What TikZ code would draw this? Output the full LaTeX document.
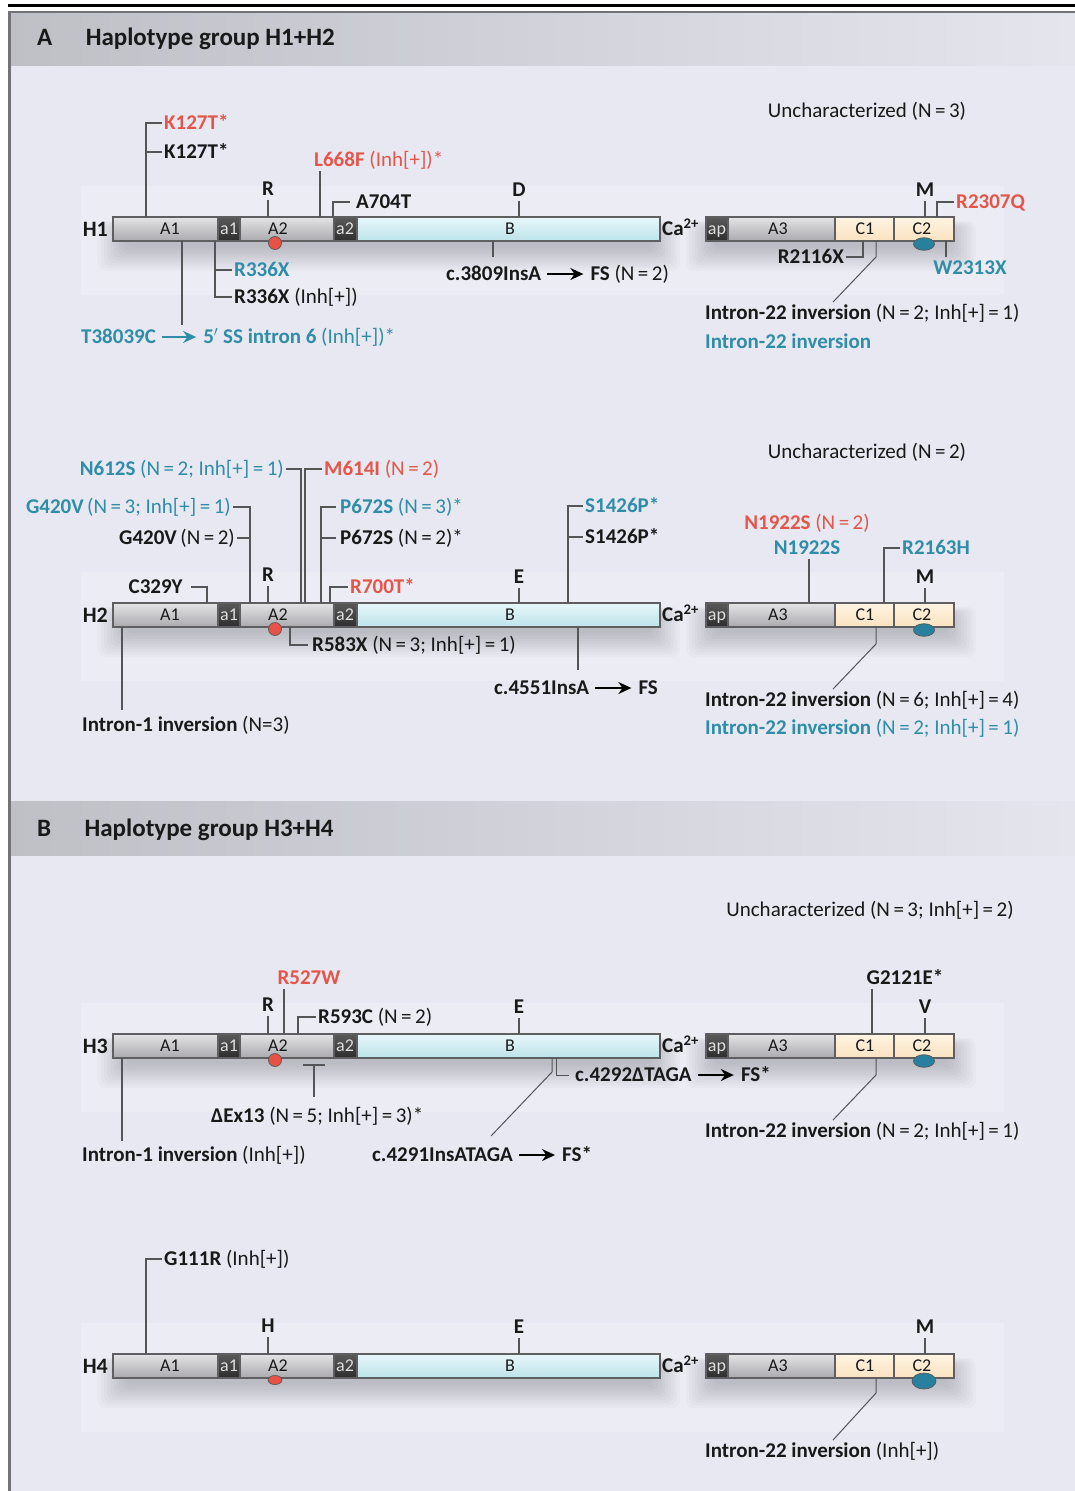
\documentclass[tikz,border=0pt]{standalone}
\usepackage{fontspec}
\setmainfont{Carlito}
\usetikzlibrary{positioning,arrows.meta}
\definecolor{panelbg}{RGB}{231,232,241}
\definecolor{rowbg}{RGB}{235,236,244}
\definecolor{hdrleft}{RGB}{190,192,198}
\definecolor{hdrright}{RGB}{229,229,238}
\definecolor{frame}{RGB}{115,115,118}
\definecolor{segline}{RGB}{95,95,98}
\definecolor{gtop}{RGB}{228,228,230}
\definecolor{gbot}{RGB}{170,170,174}
\definecolor{dtop}{RGB}{90,90,90}
\definecolor{dbot}{RGB}{45,45,45}
\definecolor{segltxt}{RGB}{222,222,222}
\definecolor{btop}{RGB}{232,247,250}
\definecolor{bbot}{RGB}{188,227,234}
\definecolor{ctop}{RGB}{255,244,226}
\definecolor{cbot}{RGB}{250,226,192}
\definecolor{mutred}{RGB}{229,86,74}
\definecolor{mutblue}{RGB}{47,141,168}
\definecolor{ink}{RGB}{25,25,25}
\definecolor{lead}{RGB}{85,85,88}
\definecolor{dotred}{RGB}{232,82,70}
\definecolor{dotblue}{RGB}{38,128,158}
\newcommand{\eqs}{\,=\,}
\newcommand{\haplorow}[4]{% #1 row, #2 bar centre, #3 red dot, #4 blue dot
  \begin{scope}[shift={(0,#2)}]
    \fill[rowbg] (81,-43) rectangle (1004,66);
    \foreach \k in {1,...,10}{
      \fill[black,opacity=0.02,rounded corners=8pt] (128-3*\k,2-\k) rectangle (650+3*\k,16+2.6*\k);
      \fill[black,opacity=0.02,rounded corners=8pt] (716-3*\k,2-\k) rectangle (946+3*\k,16+2.6*\k);
    }
    \node[rowlbl,anchor=east] (#1) at (110,0) {#1};
    \foreach \xa/\xb/\kind/\txt/\tx in {113/218/gseg/A1/170, 218/240/dseg/a1/229, 240/334/gseg/A2/278,
        334/357/dseg/a2/345, 357/660/bseg/B/510, 706/728/dseg/ap/717, 728/835/gseg/A3/778,
        835/894/cseg/C1/865, 894/954/cseg/C2/922}{
      \node[\kind,minimum width={(\xb-\xa)*1pt},anchor=west] (#1\txt) at (\xa,0) {};
      \node[seglbl,\kind\space text] (#1-\txt) at (\tx,0) {\txt};
    }
    \node[mk,anchor=west] (#1Ca) at (660,0) {Ca\textsuperscript{2+}};
    \path[reddot] (275,14) ellipse [#3];
    \path[bluedot] (924,15) ellipse [#4];
  \end{scope}}

\begin{document}
\begin{tikzpicture}[x=1pt,y=-1pt,>=Stealth,
    lbl/.style={font=\fontsize{21}{25}\selectfont,text=ink,inner xsep=2pt,inner ysep=4pt,text height=13.5pt,text depth=0pt},
    redlbl/.style={lbl,text=mutred},
    bluelbl/.style={lbl,text=mutblue},
    mk/.style={lbl,font=\bfseries\fontsize{21}{25}\selectfont},
    hdr/.style={font=\bfseries\fontsize{25}{30}\selectfont,text=ink,inner xsep=2pt,inner ysep=0pt,text height=16pt,text depth=0pt,anchor=west},
    rowlbl/.style={font=\bfseries\fontsize{22}{26}\selectfont,text=ink,inner sep=2pt,text height=14pt,text depth=0pt},
    seglbl/.style={font=\fontsize{18}{21}\selectfont,text=ink,inner sep=0pt,text height=11.6pt,text depth=0pt},
    seg/.style={draw=segline,line width=1.2pt,minimum height=24pt,inner sep=0pt,outer sep=0pt},
    gseg/.style={seg,top color=gtop,bottom color=gbot},
    dseg/.style={seg,top color=dtop,bottom color=dbot},
    bseg/.style={seg,top color=btop,bottom color=bbot},
    cseg/.style={seg,top color=ctop,bottom color=cbot},
    gseg text/.style={}, dseg text/.style={text=segltxt}, bseg text/.style={}, cseg text/.style={},
    reddot/.style={fill=dotred,draw=gray!70!black,line width=0.7pt},
    bluedot/.style={fill=dotblue,draw=gray!70!black,line width=0.7pt},
    callout/.style={draw=lead,line width=1.5pt},
    thin callout/.style={draw=lead,line width=1pt},
    arr/.style={->,>={Stealth[length=13pt,width=12pt]},line width=2pt,shorten <=4pt,shorten >=5pt}]
  \useasboundingbox (0,0) rectangle (1075,1491);
  \fill[white] (0,0) rectangle (1075,1491);
  \fill[panelbg] (9,12) rectangle (1075,1491);
  \shade[left color=hdrleft,right color=hdrright] (9,13) rectangle (1075,65);
  \shade[left color=hdrleft,right color=hdrright] (9,801) rectangle (1075,855);
  \draw[line width=3pt] (8,5.5) -- (1075,5.5);
  \draw[frame,line width=2pt] (8,12) -- (1075,12);
  \draw[frame,line width=2.5pt] (9.5,11) -- (9.5,1491);
  \node[hdr] (pA) at (35,37) {A};
  \node[hdr,right=29pt of pA] (pAtitle) {Haplotype group H1+H2};
  \node[hdr] (pB) at (35,828) {B};
  \node[hdr,right=29pt of pB] (pBtitle) {Haplotype group H3+H4};

  \haplorow{H1}{229}{x radius=6.5pt,y radius=6.5pt}{x radius=10.5pt,y radius=6.3pt}
  \haplorow{H2}{615}{x radius=6.5pt,y radius=6.5pt}{x radius=10.5pt,y radius=6.3pt}
  \haplorow{H3}{1046}{x radius=6.5pt,y radius=6.5pt}{x radius=10.5pt,y radius=6.3pt}
  \haplorow{H4}{1366}{x radius=7pt,y radius=4.5pt}{x radius=12pt,y radius=8pt}

  % H1
  \node[lbl] (unc1) at (867,111) {Uncharacterized (N\eqs 3)};
  \node[redlbl,anchor=west] (k127r) at (162,123) {\textbf{K127T*}};
  \node[lbl,anchor=west] (k127b) at (162,152) {\textbf{K127T*}};
  \draw[callout] (146,0 |- H1A1.north) |- (k127r.west); \draw[callout] (146,0 |- k127b.west) -- (k127b.west);
  \node[redlbl,anchor=west] (l668f) at (312,160) {\textbf{L668F} (Inh[+])*};
  \draw[callout] (320,0 |- H1A2.north) -- (320,0 |- l668f.south);
  \node[mk] (h1R) at (268,189) {R}; \draw[callout] (h1R.south) -- (h1R.south |- H1A2.north);
  \node[lbl,anchor=west] (a704t) at (354,202) {\textbf{A704T}};
  \draw[callout,shorten >=4pt] (333,0 |- H1A2.north) |- (a704t.west);
  \node[mk] (h1D) at (519,190) {D}; \draw[callout] (h1D.south) -- (h1D.south |- H1B.north);
  \node[mk] (h1M) at (925,190) {M}; \draw[callout] (h1M.south) -- (h1M.south |- H1C2.north);
  \node[redlbl,anchor=west] (r2307q) at (954,202) {\textbf{R2307Q}};
  \draw[callout] (937,0 |- H1C2.north) |- (r2307q.west);
  \node[bluelbl,anchor=west] (r336xt) at (232,270) {\textbf{R336X}};
  \node[lbl,anchor=west] (r336xb) at (232,297) {\textbf{R336X} (Inh[+])};
  \draw[callout] (215,0 |- H1A1.south) |- (r336xb.west); \draw[callout] (215,0 |- r336xt.west) -- (r336xt.west);
  \coordinate (t38top) at (182,325);
  \draw[callout] (182,0 |- H1A1.south) -- (t38top);
  \node[bluelbl,anchor=west] (t38) at (79,337) {\textbf{T38039C}};
  \node[bluelbl,right=43pt of t38] (ss6) {\textbf{5$'$ SS intron 6} (Inh[+])*};
  \draw[arr,mutblue] (t38) -- (ss6);
  \node[lbl,anchor=west] (c3809) at (444,274) {\textbf{c.3809InsA}};
  \node[lbl,right=45pt of c3809] (fs1) {\textbf{FS} (N\eqs 2)};
  \draw[arr] (c3809) -- (fs1);
  \draw[callout,shorten >=6pt] (493,0 |- H1B.south) -- (493,0 |- c3809.north);
  \node[lbl,anchor=east] (r2116x) at (846,257) {\textbf{R2116X}};
  \draw[callout] (863,0 |- H1C1.south) |- (r2116x.east);
  \node[bluelbl] (w2313x) at (970,268) {\textbf{W2313X}};
  \draw[callout] (946,0 |- H1C2.south) -- (946,0 |- w2313x.north);
  \node[lbl,anchor=west] (i22a) at (703,313) {\textbf{Intron-22 inversion} (N\eqs 2; Inh[+]\eqs 1)};
  \node[bluelbl,anchor=west] (i22b) at (703,342) {\textbf{Intron-22 inversion}};
  \draw[thin callout] (876,0 |- H1C1.south) -- ++(0,16) -- (833,0 |- i22a.north);

  % H2
  \node[lbl] (unc2) at (867,452) {Uncharacterized (N\eqs 2)};
  \node[bluelbl,anchor=east] (n612s) at (286,469) {\textbf{N612S} (N\eqs 2; Inh[+]\eqs 1)};
  \draw[callout] (n612s.east) -| (301,0 |- H2A2.north);
  \node[redlbl,anchor=west] (m614i) at (322,469) {\textbf{M614I} (N\eqs 2)};
  \draw[callout] (305,0 |- H2A2.north) |- (m614i.west);
  \node[bluelbl,anchor=east] (g420vt) at (233,507) {\textbf{G420V}\,(N\eqs 3; Inh[+]\eqs 1)};
  \draw[callout] (g420vt.east) -| (250,0 |- H2A2.north);
  \node[lbl,anchor=east] (g420vb) at (237,538) {\textbf{G420V}\,(N\eqs 2)};
  \draw[callout] (g420vb.east) -- (250,0 |- g420vb.east);
  \node[bluelbl,anchor=west] (p672st) at (338,507) {\textbf{P672S} (N\eqs 3)*};
  \node[lbl,anchor=west] (p672sb) at (338,538) {\textbf{P672S} (N\eqs 2)*};
  \draw[callout,shorten >=2pt] (321,0 |- H2A2.north) |- (p672st.west);
  \draw[callout,shorten >=2pt] (321,0 |- p672sb.west) -- (p672sb.west);
  \node[lbl,anchor=east] (c329y) at (185,587) {\textbf{C329Y}};
  \draw[callout,shorten <=6pt] (c329y.east) -| (207,0 |- H2A1.north);
  \node[mk] (h2R) at (268,575) {R}; \draw[callout] (h2R.south) -- (h2R.south |- H2A2.north);
  \node[redlbl,anchor=west] (r700t) at (348,587) {\textbf{R700T*}};
  \draw[callout] (330,0 |- H2A2.north) |- (r700t.west);
  \node[mk] (h2E) at (519,577) {E}; \draw[callout] (h2E.south) -- (h2E.south |- H2B.north);
  \node[bluelbl,anchor=west] (s1426pt) at (583,506) {\textbf{S1426P*}};
  \node[lbl,anchor=west] (s1426pb) at (583,537) {\textbf{S1426P*}};
  \draw[callout] (568,0 |- H2B.north) |- (s1426pt.west); \draw[callout] (568,0 |- s1426pb.west) -- (s1426pb.west);
  \node[redlbl] (n1922sr) at (807,523) {\textbf{N1922S} (N\eqs 2)};
  \node[bluelbl] (n1922st) at (807,548) {\textbf{N1922S}};
  \draw[callout] (809,0 |- n1922st.south) -- (809,0 |- H2A3.north);
  \node[bluelbl,anchor=west] (r2163h) at (900,548) {\textbf{R2163H}};
  \draw[callout] (884,0 |- H2C1.north) |- (r2163h.west);
  \node[mk] (h2M) at (925,577) {M}; \draw[callout] (h2M.south) -- (h2M.south |- H2C2.north);
  \node[lbl,anchor=west] (r583x) at (310,645) {\textbf{R583X} (N\eqs 3; Inh[+]\eqs 1)};
  \draw[callout,shorten >=2pt] (290,0 |- H2A2.south) |- (r583x.west);
  \node[lbl,anchor=west] (i1a) at (80,725) {\textbf{Intron-1 inversion} (N=3)};
  \draw[callout,shorten >=4pt] (122,0 |- H2A1.south) -- (122,0 |- i1a.north);
  \node[lbl,anchor=west] (c4551) at (492,688) {\textbf{c.4551InsA}};
  \node[lbl,right=45pt of c4551] (fs2) {\textbf{FS}};
  \draw[arr] (c4551) -- (fs2);
  \draw[callout,shorten >=7pt] (578,0 |- H2B.south) -- (578,0 |- c4551.north);
  \node[lbl,anchor=west] (i22c) at (703,700) {\textbf{Intron-22 inversion} (N\eqs 6; Inh[+]\eqs 4)};
  \node[bluelbl,anchor=west] (i22d) at (703,728) {\textbf{Intron-22 inversion} (N\eqs 2; Inh[+]\eqs 1)};
  \draw[thin callout] (876,0 |- H2C1.south) -- ++(0,17) -- (833,0 |- i22c.north);

  % H3
  \node[lbl] (unc3) at (870,910) {Uncharacterized (N\eqs 3; Inh[+]\eqs 2)};
  \node[redlbl] (r527w) at (309,978) {\textbf{R527W}};
  \draw[callout] (284,0 |- r527w.south) -- (284,0 |- H3A2.north);
  \node[mk] (h3R) at (268,1005) {R}; \draw[callout] (h3R.south) -- (h3R.south |- H3A2.north);
  \node[lbl,anchor=west] (r593c) at (316,1017) {\textbf{R593C} (N\eqs 2)};
  \draw[callout] (298,0 |- H3A2.north) |- (r593c.west);
  \node[mk] (h3E) at (519,1007) {E}; \draw[callout] (h3E.south) -- (h3E.south |- H3B.north);
  \node[lbl] (g2121e) at (905,978) {\textbf{G2121E*}};
  \draw[callout] (872,0 |- g2121e.south) -- (872,0 |- H3C1.north);
  \node[mk] (h3V) at (925,1007) {V}; \draw[callout] (h3V.south) -- (h3V.south |- H3C2.north);
  \node[lbl,anchor=west] (i1b) at (80,1155) {\textbf{Intron-1 inversion} (Inh[+])};
  \draw[callout,shorten >=3pt] (122,0 |- H3A1.south) -- (122,0 |- i1b.north);
  \node[lbl,anchor=west] (dex13) at (209,1116) {\textbf{ΔEx13} (N\eqs 5; Inh[+]\eqs 3)*};
  \coordinate (ex13l) at (303,1065); \coordinate (ex13r) at (325,1065);
  \draw[callout] (ex13l) -- (ex13r);
  \draw[callout,shorten >=8pt] (314,0 |- ex13l) -- (314,0 |- dex13.north);
  \node[lbl,anchor=west] (c4291) at (370,1155) {\textbf{c.4291InsATAGA}};
  \node[lbl,right=45pt of c4291] (fs3) {\textbf{FS*}};
  \draw[arr] (c4291) -- (fs3);
  \coordinate (c4291top) at (491,1136);
  \draw[thin callout] (552,0 |- H3B.south) -- ++(0,14) -- (c4291top);
  \node[lbl,anchor=west] (c4292) at (573,1075) {\textbf{c.4292ΔTAGA}};
  \node[lbl,right=45pt of c4292] (fs4) {\textbf{FS*}};
  \draw[arr] (c4292) -- (fs4);
  \draw[thin callout,shorten >=4pt] (556,0 |- H3B.south) |- (c4292.west);
  \node[lbl,anchor=west] (i22e) at (703,1131) {\textbf{Intron-22 inversion} (N\eqs 2; Inh[+]\eqs 1)};
  \draw[thin callout] (876,0 |- H3C1.south) -- ++(0,17) -- (833,0 |- i22e.north);

  % H4
  \node[lbl,anchor=west] (g111r) at (162,1259) {\textbf{G111R} (Inh[+])};
  \draw[callout] (146,0 |- H4A1.north) |- (g111r.west);
  \node[mk] (h4H) at (268,1326) {H}; \draw[callout] (h4H.south) -- (h4H.south |- H4A2.north);
  \node[mk] (h4E) at (519,1327) {E}; \draw[callout] (h4E.south) -- (h4E.south |- H4B.north);
  \node[mk] (h4M) at (925,1327) {M}; \draw[callout] (h4M.south) -- (h4M.south |- H4C2.north);
  \node[lbl,anchor=west] (i22f) at (703,1451) {\textbf{Intron-22 inversion} (Inh[+])};
  \draw[thin callout] (876,0 |- H4C1.south) -- ++(0,15) -- (833,0 |- i22f.north);
\end{tikzpicture}
\end{document}
